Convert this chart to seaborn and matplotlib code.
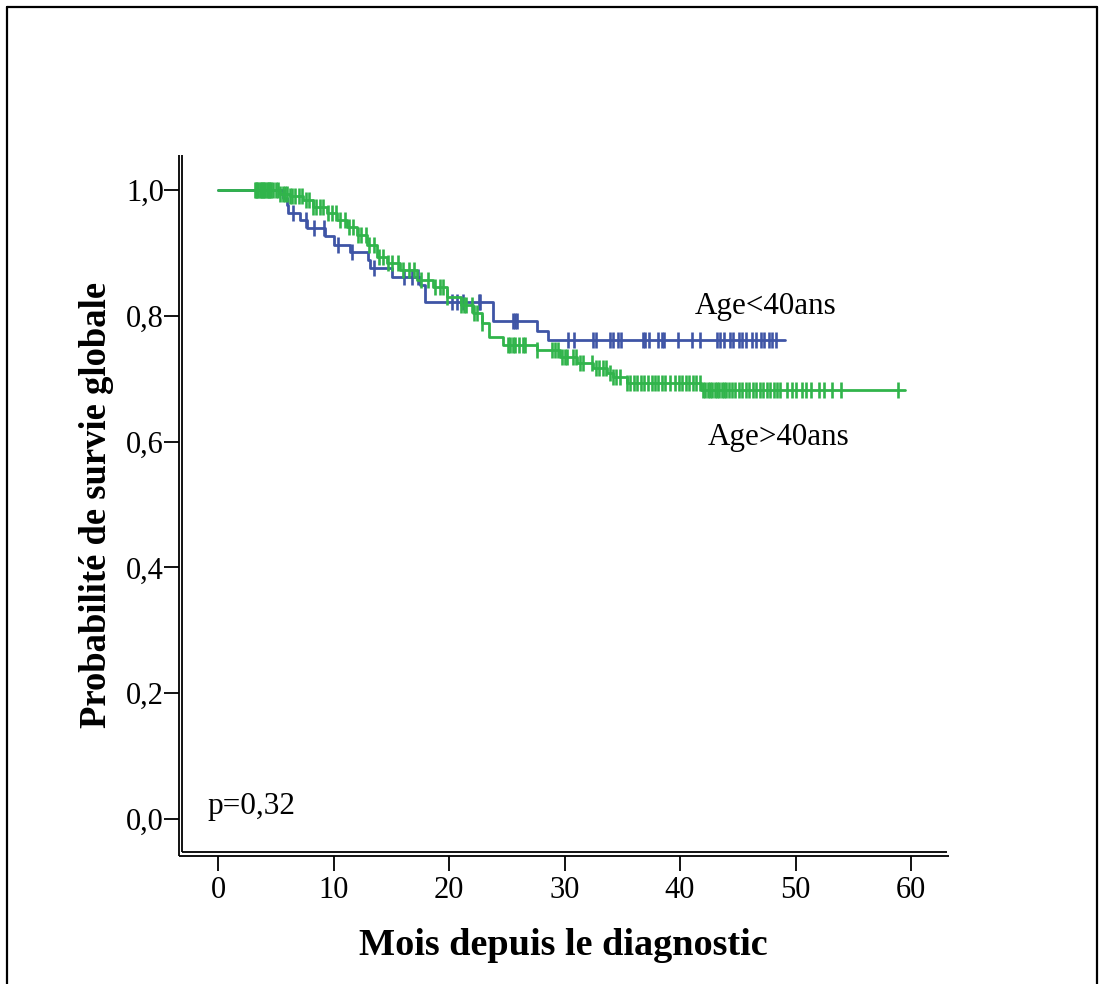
import numpy as np
import pandas as pd
import matplotlib
matplotlib.use("Agg")
import matplotlib.pyplot as plt
from matplotlib.lines import Line2D
from matplotlib.ticker import FixedLocator, FuncFormatter
import seaborn as sns

# Kaplan-Meier step estimates (months, survival) and censored observations
young_times = [0.0, 5.6, 6.0, 6.1, 7.1, 7.7, 9.3, 10.0, 11.4, 13.0, 13.2, 15.1,
               17.5, 17.9, 23.8, 27.6, 28.6, 49.1]
young_surv = [1.0, 0.988, 0.976, 0.964, 0.952, 0.940, 0.927, 0.913, 0.902, 0.889,
              0.876, 0.862, 0.849, 0.822, 0.792, 0.776, 0.762, 0.762]
young_censor = [6.5, 7.6, 8.3, 9.2, 10.4, 11.6, 13.5, 16.1, 16.8, 17.3, 20.3, 20.7,
                21.2, 22.6, 22.7, 25.5, 25.7, 25.9, 30.3, 30.8, 32.5, 32.7, 33.9,
                34.2, 34.6, 34.9, 36.8, 37.0, 37.3, 38.1, 38.4, 38.6, 39.8, 41.0,
                41.7, 43.2, 43.5, 43.8, 44.3, 44.6, 45.1, 45.4, 45.7, 46.2, 46.6,
                47.0, 47.3, 47.7, 48.0, 48.3]

old_times = [0.0, 5.4, 6.2, 7.4, 8.2, 9.4, 10.3, 11.2, 12.0, 12.9, 13.8, 14.6, 15.8,
             17.2, 18.6, 19.8, 21.0, 22.1, 22.9, 23.5, 24.7, 27.6, 29.6, 31.1, 32.5,
             33.7, 34.2, 35.4, 41.8, 59.5]
old_surv = [1.0, 0.994, 0.990, 0.984, 0.973, 0.963, 0.952, 0.941, 0.928, 0.912, 0.894,
            0.884, 0.873, 0.857, 0.846, 0.830, 0.817, 0.804, 0.789, 0.766, 0.753, 0.746,
            0.735, 0.725, 0.717, 0.709, 0.703, 0.693, 0.682, 0.682]
old_censor = [3.2, 3.3, 3.4, 3.5, 3.6, 3.7, 3.8, 3.9, 4.0, 4.1, 4.2, 4.3, 4.4, 4.5,
              4.6, 4.8, 5.0, 5.2, 5.4, 5.6, 5.8, 6.0, 6.2, 6.4, 6.7, 7.0, 7.3, 7.6,
              7.9, 8.2, 8.5, 8.8, 9.1, 9.5, 9.9, 10.2, 10.6, 11.0, 11.3, 11.7, 12.1,
              12.4, 12.8, 13.1, 13.5, 13.9, 14.3, 14.7, 15.1, 15.6, 16.0, 16.5, 17.0,
              17.6, 18.2, 18.8, 19.2, 19.5, 19.8, 21.0, 21.3, 21.5, 22.0, 22.2, 22.4,
              22.9, 25.1, 25.3, 25.5, 25.7, 26.1, 26.4, 26.6, 27.6, 28.9, 29.2, 29.4,
              29.8, 30.0, 30.2, 30.7, 31.0, 31.3, 31.6, 32.4, 32.7, 33.0, 33.3, 33.6,
              33.9, 34.2, 34.5, 34.8, 35.4, 35.7, 36.0, 36.3, 36.6, 36.9, 37.2, 37.6,
              37.8, 38.1, 38.4, 38.7, 39.1, 39.6, 39.9, 40.2, 40.5, 40.8, 41.1, 41.4,
              41.7, 42.0, 42.2, 42.4, 42.6, 42.8, 43.0, 43.2, 43.4, 43.6, 43.8, 44.0,
              44.2, 44.5, 44.8, 45.1, 45.4, 45.7, 46.0, 46.3, 46.6, 46.9, 47.2, 47.5,
              47.8, 48.1, 48.4, 48.7, 49.3, 49.7, 50.0, 50.6, 50.9, 51.3, 52.0, 52.5,
              53.2, 53.9, 58.9]

group_names = ["Age<40ans", "Age>40ans"]
group_colors = ["#3f55a6", "#31b44b"]
x_ticks = [0, 10, 20, 30, 40, 50, 60]
y_ticks = [0.0, 0.2, 0.4, 0.6, 0.8, 1.0]
p_text = "p=0,32"


def step_value(times, surv, t):
    idx = np.searchsorted(times, t, side="right") - 1
    return surv[max(idx, 0)]


curves = pd.concat([
    pd.DataFrame({"mois": young_times, "survie": young_surv, "groupe": group_names[0]}),
    pd.DataFrame({"mois": old_times, "survie": old_surv, "groupe": group_names[1]}),
], ignore_index=True)
censored = pd.concat([
    pd.DataFrame({"mois": young_censor,
                  "survie": [step_value(young_times, young_surv, t) for t in young_censor],
                  "groupe": group_names[0]}),
    pd.DataFrame({"mois": old_censor,
                  "survie": [step_value(old_times, old_surv, t) for t in old_censor],
                  "groupe": group_names[1]}),
], ignore_index=True)

sns.set_theme(style="white")
plt.rcParams["font.family"] = ["Liberation Serif", "DejaVu Serif"]
plt.rcParams["text.color"] = "black"
plt.rcParams["axes.labelcolor"] = "black"

W, H = 1104, 984
fig = plt.figure(figsize=(W / 100, H / 100), dpi=100)
ax_l, ax_r, ax_t, ax_b = 178.5, 949.0, 155.0, 855.5
ax = fig.add_axes([ax_l / W, 1 - ax_b / H, (ax_r - ax_l) / W, (ax_b - ax_t) / H])

palette = dict(zip(group_names, group_colors))
# younger group first, older group drawn over it
for k, name in enumerate(group_names):
    sns.lineplot(data=curves[curves.groupe == name], x="mois", y="survie",
                 color=palette[name], estimator=None, sort=True,
                 drawstyle="steps-post", lw=2.0, ax=ax, legend=False, zorder=2 + 2 * k)
    sns.scatterplot(data=censored[censored.groupe == name], x="mois", y="survie",
                    color=palette[name], marker="|", s=130, linewidth=1.9,
                    ax=ax, legend=False, zorder=3 + 2 * k)

x0 = (178.5 - 218.0) / 11.55
x1 = (949.0 - 218.0) / 11.55
ax.set_xlim(x0, x1)
ax.set_ylim((819.0 - 855.5) / 629.0, (819.0 - 155.0) / 629.0)

for s in ax.spines.values():
    s.set_visible(False)

# double-line axes in the corner
dx = 3.2 / (ax_r - ax_l)
dy = 3.5 / (ax_b - ax_t)
kw = dict(transform=ax.transAxes, color="black", lw=1.3, clip_on=False, solid_capstyle="butt")
ax.plot([0, 0], [0, 1], **kw)
ax.plot([0, 1], [0, 0], **kw)
ax.plot([dx, dx], [dy, 1], **kw)
ax.plot([dx, 0.9975], [dy, dy], **kw)

ax.xaxis.set_major_locator(FixedLocator(x_ticks))
ax.yaxis.set_major_locator(FixedLocator(y_ticks))
ax.yaxis.set_major_formatter(FuncFormatter(lambda v, p: f"{v:.1f}".replace(".", ",")))
ax.xaxis.set_major_formatter(FuncFormatter(lambda v, p: f"{v:.0f}"))
ax.tick_params(axis="both", direction="out", length=10.5, width=1.3, color="black",
               labelsize=22, labelcolor="black", bottom=True, left=True)
ax.tick_params(axis="y", pad=0)
ax.tick_params(axis="x", pad=4)

ax.set_xlabel("Mois depuis le diagnostic", fontsize=27.5, fontweight="bold", labelpad=17)
ax.set_ylabel("Probabilité de survie globale", fontsize=26.4, fontweight="bold", labelpad=9)

ax.text(41.3, 0.814, group_names[0], fontsize=22.3, va="center", ha="left")
ax.text(42.4, 0.607, group_names[1], fontsize=22.3, va="center", ha="left")
ax.text(-0.95, 0.02, p_text, fontsize=22.5, va="center", ha="left")

# outer frame of the figure
for (xa, ya), (xb, yb) in [((7, 7), (1097, 7)), ((7, 7), (7, 990)), ((1097, 7), (1097, 990))]:
    fig.add_artist(Line2D([xa / W, xb / W], [1 - ya / H, 1 - yb / H],
                          transform=fig.transFigure, color="black", lw=1.6))

fig.savefig("out.png", dpi=100)
